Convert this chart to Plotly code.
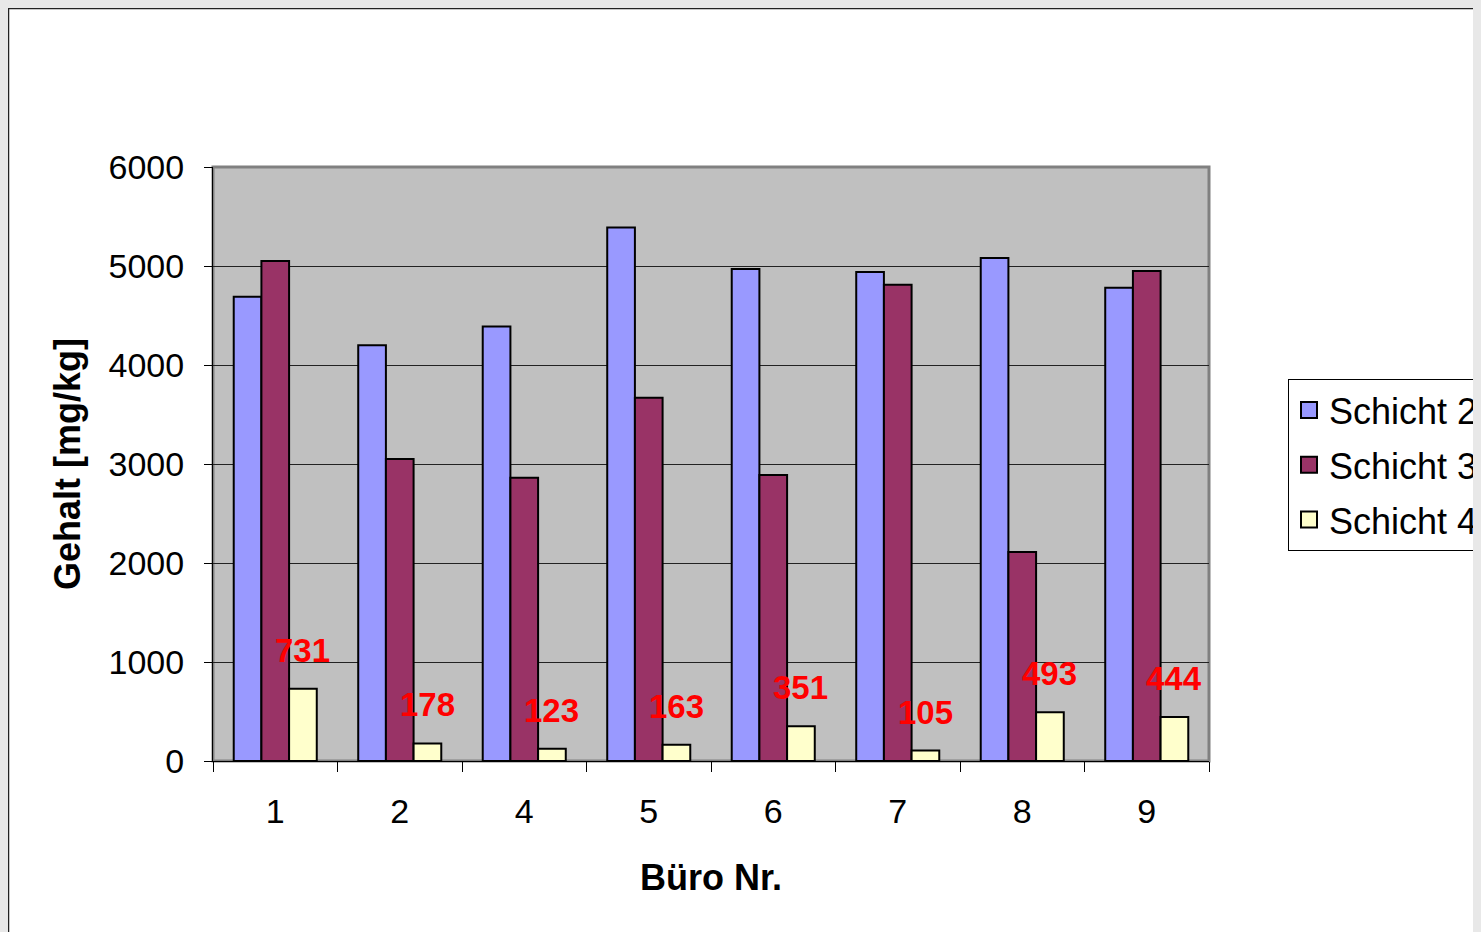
import plotly.graph_objects as go

categories = ["1", "2", "4", "5", "6", "7", "8", "9"]
schicht2 = [4690, 4200, 4390, 5390, 4970, 4940, 5080, 4780]
schicht3 = [5050, 3050, 2860, 3670, 2890, 4810, 2110, 4950]
schicht4 = [731, 178, 123, 163, 351, 105, 493, 444]
series_names = ["Schicht 2", "Schicht 3", "Schicht 4"]
series_colors = ["#9999ff", "#993366", "#ffffcc"]
y_ticks = [0, 1000, 2000, 3000, 4000, 5000, 6000]

W, H = 1481, 932
ML, MR, MT, MB = 205, 280, 159, 179
PW = W - ML - MR
PH = H - MT - MB
BARGAP = 0.333

FONT = "Liberation Sans, Arial, sans-serif"

fig = go.Figure()
for name, vals, col in zip(series_names, [schicht2, schicht3, schicht4], series_colors):
    fig.add_trace(go.Bar(
        x=categories, y=vals, name=name,
        marker=dict(color=col, line=dict(color="black", width=2)),
        showlegend=False,
    ))
for name, col in zip(series_names, series_colors):
    # legend proxies with larger square swatches
    fig.add_trace(go.Scatter(
        x=[categories[0]], y=[None], mode="markers", name=name, legendgroup=name,
        marker=dict(symbol="square", size=20, color=col, line=dict(color="black", width=2)),
        showlegend=True, hoverinfo="skip",
    ))

bar_w = PW / len(categories) * (1 - BARGAP) / 3
annotations = []
for i, v in enumerate(schicht4):
    annotations.append(dict(
        x=i, y=v, xref="x", yref="y", text=f"<b>{v}</b>", showarrow=False,
        xanchor="center", yanchor="bottom", xshift=bar_w, yshift=18,
        font=dict(family=FONT, size=33, color="#ff0000"),
    ))

fx = lambda px: (px - ML) / PW
fy = lambda py: (H - MB - py) / PH

shapes = [
    dict(type="rect", xref="paper", yref="paper", layer="below",
         x0=fx(0), x1=fx(W + 20), y0=fy(H + 20), y1=fy(0),
         fillcolor="white", line=dict(color="#222222", width=2.5)),
    dict(type="rect", xref="x domain", yref="y domain", layer="below",
         x0=0, x1=1, y0=0, y1=1,
         fillcolor="#c0c0c0", line=dict(color="#808080", width=3)),
]

fig.update_layout(
    width=W, height=H,
    margin=dict(l=ML, r=MR, t=MT, b=MB, autoexpand=False),
    paper_bgcolor="white",
    plot_bgcolor="#c0c0c0",
    barmode="group", bargap=BARGAP, bargroupgap=0,
    font=dict(family=FONT, size=34, color="black"),
    showlegend=True,
    legend=dict(
        x=fx(1280), y=fy(371), xanchor="left", yanchor="top",
        bgcolor="white", bordercolor="black", borderwidth=1,
        font=dict(family=FONT, size=36, color="black"),
        itemsizing="trace", tracegroupgap=5,
    ),
    annotations=annotations,
    shapes=shapes,
    xaxis=dict(
        type="category", categoryorder="array", categoryarray=categories,
        range=[-0.5, len(categories) - 0.5],
        showgrid=False, showline=True, linecolor="black", linewidth=1,
        ticks="outside", ticklen=10, tickcolor="black", tickson="boundaries",
        tickfont=dict(family=FONT, size=34), ticklabelstandoff=20,
        title=dict(text="<b>Büro Nr.</b>", font=dict(family=FONT, size=36), standoff=36),
        zeroline=False,
    ),
    yaxis=dict(
        range=[0, 6000], tickvals=y_ticks, showgrid=True, gridcolor="#222222", gridwidth=1,
        showline=True, linecolor="black", linewidth=1,
        ticks="outside", ticklen=8, tickcolor="black",
        tickfont=dict(family=FONT, size=34), ticklabelstandoff=13,
        title=dict(text="<b>Gehalt [mg/kg]</b>", font=dict(family=FONT, size=36), standoff=16),
        zeroline=False,
    ),
)

fig.write_html("out.html", post_script="document.body.style.background='#e8e8e8';")
